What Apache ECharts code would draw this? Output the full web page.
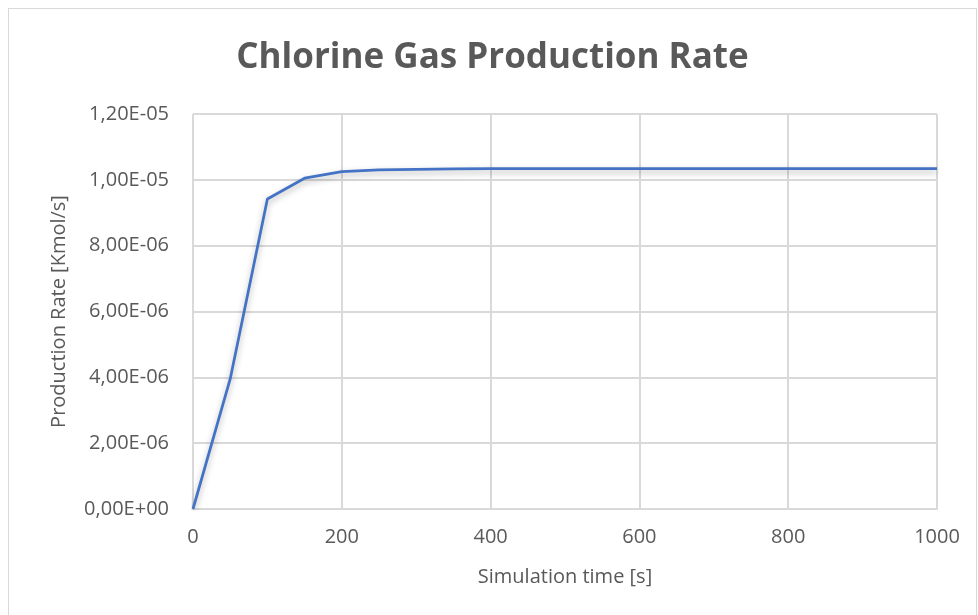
<!DOCTYPE html>
<html>
<head>
<meta charset="utf-8">
<script src="https://cdn.jsdelivr.net/npm/echarts@6/dist/echarts.min.js"></script>
<style>
  html, body { margin: 0; padding: 0; background: #fff; }
  #chart { position: absolute; left: 8px; top: 8px; width: 969px; height: 620px; border: 1px solid #d9d9d9; box-sizing: border-box; }
</style>
</head>
<body>
<div id="chart"></div>
<script>
// simulation time [s]
const times = [0, 50, 100, 150, 200, 250, 300, 350, 400, 450, 500, 550, 600, 650, 700, 750, 800, 850, 900, 950, 1000]
// production rate [Kmol/s]
const rates = [0, 3.95e-6, 9.42e-6, 1.005e-5, 1.025e-5, 1.030e-5, 1.032e-5, 1.033e-5, 1.034e-5, 1.034e-5,
  1.034e-5, 1.034e-5, 1.034e-5, 1.034e-5, 1.034e-5, 1.034e-5, 1.034e-5, 1.034e-5, 1.034e-5, 1.034e-5, 1.034e-5]

// Excel style scientific label, e.g. 1,20E-05
function sci(v) {
  if (v === 0) return '0,00E+00'
  let e = Math.floor(Math.log10(Math.abs(v)) + 1e-9)
  let m = v / Math.pow(10, e)
  let s = e < 0 ? '-' : '+'
  return m.toFixed(2).replace('.', ',') + 'E' + s + String(Math.abs(e)).padStart(2, '0')
}

const font = 'Open Sans, Lato, sans-serif'
let chart = echarts.init(document.getElementById('chart'))
chart.setOption({
  animation: false,
  title: {
    text: 'Chlorine Gas Production Rate',
    left: 'center',
    top: 27,
    textStyle: { fontFamily: font, fontSize: 35, fontWeight: 'bold', color: '#595959' }
  },
  grid: { left: 184, right: 39, top: 105, bottom: 118 },
  xAxis: {
    type: 'value',
    min: 0, max: 1000, interval: 200,
    name: 'Simulation time [s]',
    nameLocation: 'middle',
    nameGap: 58,
    nameTextStyle: { fontFamily: font, fontSize: 20, color: '#595959' },
    axisLine: { lineStyle: { color: '#d9d9d9', width: 2 } },
    axisTick: { show: false },
    axisLabel: { fontFamily: font, fontSize: 20, color: '#595959', margin: 18, formatter: v => String(v) },
    splitLine: { lineStyle: { color: '#d9d9d9', width: 2 } }
  },
  yAxis: {
    type: 'value',
    min: 0, max: 1.2e-5, interval: 2e-6,
    name: 'Production Rate [Kmol/s]',
    nameLocation: 'middle',
    nameGap: 124,
    nameTextStyle: { fontFamily: font, fontSize: 20, color: '#595959' },
    axisLine: { show: false },
    axisTick: { show: false },
    axisLabel: { fontFamily: font, fontSize: 20, color: '#595959', margin: 24, formatter: sci },
    splitLine: { lineStyle: { color: '#d9d9d9', width: 2 } }
  },
  series: [{
    type: 'line',
    data: times.map((t, i) => [t, rates[i]]),
    showSymbol: false,
    lineStyle: { color: '#4472C4', width: 2.75, shadowColor: 'rgba(0,0,0,0.3)', shadowBlur: 6, shadowOffsetY: 3 }
  }]
})
</script>
</body>
</html>
